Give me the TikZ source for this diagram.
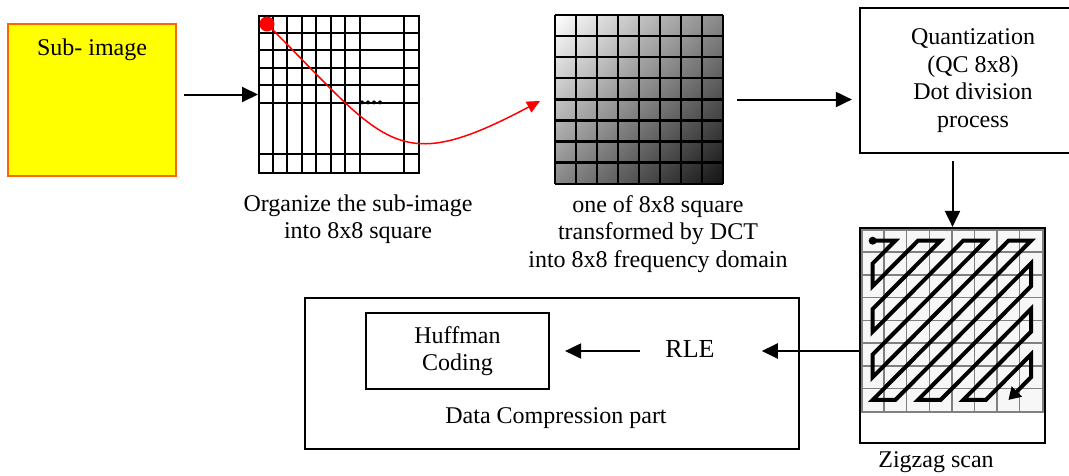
\documentclass[tikz,border=0pt]{standalone}
\usepackage{fontspec}
\setmainfont{Liberation Serif}
\usetikzlibrary{arrows.meta,positioning,shadings}
\definecolor{subfill}{RGB}{255,255,0}
\definecolor{subedge}{RGB}{255,102,0}

\begin{document}
\begin{tikzpicture}[x=1pt,y=-1pt,>={Triangle[length=16pt,width=15pt]},
    txt/.style={font=\fontsize{24}{27.5}\selectfont,align=center},
    box/.style={draw,line width=2.2pt,inner sep=0pt},
    flow/.style={->,line width=2pt}]
    \useasboundingbox (0,0) rectangle (1069,475);

    % sub-image
    \node[box,draw=subedge,fill=subfill,minimum width=168pt,minimum height=152pt] (sub) at (92,100) {};
    \node[txt] (subtxt) at (92,50) {Sub- image};

    % 8x8 squares of the sub-image
    \node[draw,line width=2pt,minimum width=160pt,minimum height=157pt,inner sep=0pt] (orgsq) at (339,94.5) {};
    \begin{scope}[shift={(orgsq.north west)}]
      \foreach \x in {14.5,29,...,101.5,145.5} \draw[line width=2pt] (\x,0) -- (\x,157);
      \foreach \y in {17.5,35,...,87.5,139} \draw[line width=2pt] (0,\y) -- (160,\y);
    \end{scope}
    \node[txt,anchor=base,inner sep=0pt] (more) at (371,104) {\textbf{....}};
    \node[circle,fill=red,minimum size=15pt,inner sep=0pt] (dcpt) at (267,24) {};
    \node[txt] (orgcap) at (358,219) {Organize the sub-image\\into 8x8 square};

    % DCT square
    \node[minimum width=168pt,minimum height=169pt,inner sep=0pt] (dctsq) at (639,99.5) {};
    \begin{scope}[shift={(dctsq.north west)}]
      \foreach \i in {0,...,7}
        \foreach \j in {0,...,7}{
          \pgfmathsetmacro\ga{5.8*(\i+\j)}
          \pgfmathsetmacro\gb{5.8*(\i+\j+1)}
          \pgfmathsetmacro\gc{5.8*(\i+\j+2)}
          \shade[upper left=black!\ga,upper right=black!\gb,lower left=black!\gb,lower right=black!\gc]
            (21*\i,21.125*\j) rectangle ++(21,21.125);
        }
      \foreach \k in {0,...,8}{
        \draw[line width=2.5pt] (21*\k,0) -- (21*\k,169);
        \draw[line width=2.5pt] (0,21.125*\k) -- (168,21.125*\k);
      }
    \end{scope}
    \node[txt] (dctcap) at (658,234) {one of 8x8 square\\transformed by DCT\\into 8x8 frequency domain};
    \coordinate (dctin) at (540,101);
    \draw[red,line width=1.5pt,-{Triangle[length=13pt,width=12pt]}] (dcpt.center) .. controls (387,144) and (395,178) .. (dctin);

    % quantization
    \node[box,txt,minimum width=226pt,minimum height=145pt] (quant) at (973,80.5) {Quantization\\(QC 8x8)\\Dot division\\process};

    % zigzag scan
    \node[box,minimum width=185pt,minimum height=215pt] (zig) at (952.5,335.5) {};
    \node[draw=gray,fill=gray!6,line width=1.3pt,minimum width=181pt,minimum height=182pt,inner sep=0pt] (zzgrid) at (952.5,321) {};
    \begin{scope}[shift={(zzgrid.north west)},x=22.625pt,y=-22.75pt]
      \foreach \k in {1,...,7}{
        \draw[gray,line width=1.3pt] (\k,0) -- (\k,8);
        \draw[gray,line width=1.3pt] (0,\k) -- (8,\k);
      }
      \fill (.5,.5) circle (4pt);
      \draw[line width=4pt,-{Triangle[length=12pt,width=14pt]}] (.5,.5) -- (1.5,.5) -- (.5,1.5) -- (.5,2.5)
        -- (2.5,.5) -- (3.5,.5) -- (.5,3.5) -- (.5,4.5) -- (4.5,.5) -- (5.5,.5) -- (.5,5.5) -- (.5,6.5)
        -- (6.5,.5) -- (7.5,.5) -- (.5,7.5) -- (1.5,7.5) -- (7.5,1.5) -- (7.5,2.5) -- (2.5,7.5) -- (3.5,7.5)
        -- (7.5,3.5) -- (7.5,4.5) -- (4.5,7.5) -- (5.5,7.5) -- (7.5,5.5) -- (7.5,6.5) -- (6.5,7.5);
    \end{scope}
    \node[txt] (zigcap) at (936,462) {Zigzag scan};

    % data compression part
    \node[box,minimum width=494pt,minimum height=151pt] (dcpart) at (552,373.5) {};
    \node[box,txt,minimum width=183pt,minimum height=76pt] (huff) at (457.5,351) {Huffman\\Coding};
    \node[txt,font=\fontsize{26}{30}\selectfont,inner sep=0pt] (rle) at (690,349) {RLE};
    \node[txt] (dccap) at (556,418) {Data Compression part};

    \draw[flow,shorten <=7pt] (sub.east |- orgsq.west) -- (orgsq.west);
    \draw[flow,shorten <=14pt,shorten >=7pt] (dctsq.east) -- (dctsq.east -| quant.west);
    \draw[flow,shorten <=7pt] (zig.north |- quant.south) -- (zig.north);
    \draw[flow,shorten >=47pt] (zig.west |- huff.east) -- (rle.east |- huff.east);
    \draw[flow,shorten <=25pt,shorten >=15pt] (rle.west |- huff.east) -- (huff.east);
  \end{tikzpicture}
\end{document}
